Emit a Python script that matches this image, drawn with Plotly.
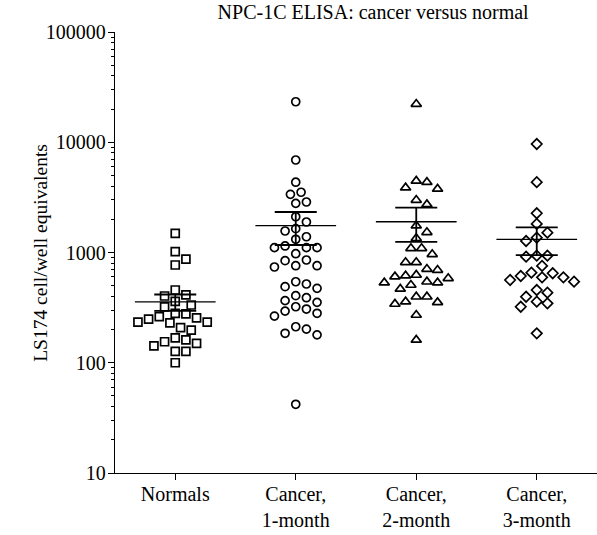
import math
import plotly.graph_objects as go

# ---- data ----
categories = ["Normals", "Cancer,<br>1-month", "Cancer,<br>2-month", "Cancer,<br>3-month"]

normals = [1490, 1020, 870, 770, 457, 412, 403, 361, 334, 321, 281, 277, 262, 255,
           249, 234, 230, 234, 208, 198, 168, 161, 155, 150, 142, 127, 127, 100]
cancer_1m = [23300, 6900, 4340, 3520, 3370, 2870, 2790, 2110, 1890, 1645, 1567, 1390,
             1318, 1146, 1107, 1107, 1107, 975, 855, 843, 759, 759, 739, 543, 518, 490,
             473, 406, 389, 366, 353, 322, 307, 294, 281, 265, 212, 202, 185, 179, 42]
cancer_2m = [22200, 4460, 4340, 3870, 3770, 2990, 2730, 1750, 1524, 1345, 1092, 1092,
             963, 815, 815, 708, 693, 625, 616, 604, 583, 543, 532, 532, 507, 467, 397,
             397, 358, 353, 341, 271, 161]
cancer_3m = [9640, 4340, 2270, 1815, 1513, 1362, 1271, 935, 935, 916, 755, 656, 648,
             612, 595, 595, 563, 544, 457, 432, 397, 358, 346, 322, 185]

group_means = [356, 1750, 1900, 1317]
group_sems = [60, 580, 650, 370]

ytick_values = [10, 100, 1000, 10000, 100000]
ytick_labels = ["10", "100", "1000", "10000", "100000"]

title_text = "NPC-1C ELISA: cancer versus normal"
ylabel_text = "LS174 cell/well equivalents"

groups = [normals, cancer_1m, cancer_2m, cancer_3m]
symbols = ["square-open", "circle-open", "triangle-up-open", "diamond-open"]

# ---- beeswarm offsets computed from the values ----
PX_PER_DECADE = 110.25
PX_PER_CAT = 121.0
DIAM = 10.7
STEP = DIAM / 2


def swarm(values):
    order = sorted(range(len(values)), key=lambda i: -values[i])
    placed = []
    offs = [0.0] * len(values)
    cands = [0]
    for n in range(1, 30):
        cands += [n, -n]
    for i in order:
        py = math.log10(values[i]) * PX_PER_DECADE
        for c in cands:
            px = c * STEP
            ok = True
            for (qx, qy) in placed:
                if (qx - px) ** 2 + (qy - py) ** 2 < (DIAM - 0.3) ** 2:
                    ok = False
                    break
            if ok:
                placed.append((px, py))
                offs[i] = px / PX_PER_CAT
                break
    return offs


fig = go.Figure()
for gi, vals in enumerate(groups):
    offs = swarm(vals)
    fig.add_trace(go.Scatter(
        x=[gi + o for o in offs], y=vals, mode="markers",
        marker=dict(symbol=symbols[gi], size=8 if gi != 2 else 9,
                    color="black", line=dict(width=1.7, color="black")),
        showlegend=False, hoverinfo="y"))

# mean lines
mx, my = [], []
for gi, m in enumerate(group_means):
    mx += [gi - 0.335, gi + 0.335, None]
    my += [m, m, None]
fig.add_trace(go.Scatter(x=mx, y=my, mode="lines",
                         line=dict(color="black", width=1.3),
                         showlegend=False, hoverinfo="skip"))

# SEM error bars
fig.add_trace(go.Scatter(
    x=list(range(len(group_means))), y=group_means, mode="markers",
    marker=dict(size=1, color="rgba(0,0,0,0)"),
    error_y=dict(type="data", array=group_sems, symmetric=True,
                 color="black", thickness=1.8, width=21),
    showlegend=False, hoverinfo="skip"))

font_family = "Liberation Serif, Times New Roman, serif"
FS = 20

fig.update_layout(
    width=597, height=535,
    margin=dict(l=115, r=0, t=32, b=62, autoexpand=False),
    paper_bgcolor="white", plot_bgcolor="white",
    font=dict(family=font_family, size=FS, color="black"),
    title=dict(text=title_text, x=0.625, xref="container", xanchor="center",
               y=0.977, yref="container", yanchor="middle",
               font=dict(family=font_family, size=FS, color="black")),
    xaxis=dict(range=[-0.5, 3.5], tickmode="array",
               tickvals=list(range(len(categories))), ticktext=categories,
               showline=True, linecolor="black", linewidth=1.3,
               ticks="outside", ticklen=6, tickwidth=1.3, tickcolor="black",
               ticklabelstandoff=-3,
               showgrid=False, zeroline=False, fixedrange=True, automargin=False),
    yaxis=dict(type="log", range=[1, 5], tickmode="array",
               tickvals=ytick_values, ticktext=ytick_labels,
               showline=True, linecolor="black", linewidth=1.3,
               ticks="outside", ticklen=6, tickwidth=1.3, tickcolor="black",
               ticklabelstandoff=-2,
               tickfont=dict(family=font_family, size=20),
               minor=dict(ticks="outside", ticklen=3, tickwidth=1,
                          tickcolor="black", dtick="D1", showgrid=False),
               showgrid=False, zeroline=False, automargin=False),
    annotations=[dict(text=ylabel_text, textangle=-90, xref="paper", yref="paper",
                      x=-0.155, y=0.5, xanchor="center", yanchor="middle",
                      showarrow=False, font=dict(family=font_family, size=19.5))],
)

fig.write_html("out.html", config={"displayModeBar": False},
               post_script="document.body.style.margin='0px';document.body.style.padding='0px';")
